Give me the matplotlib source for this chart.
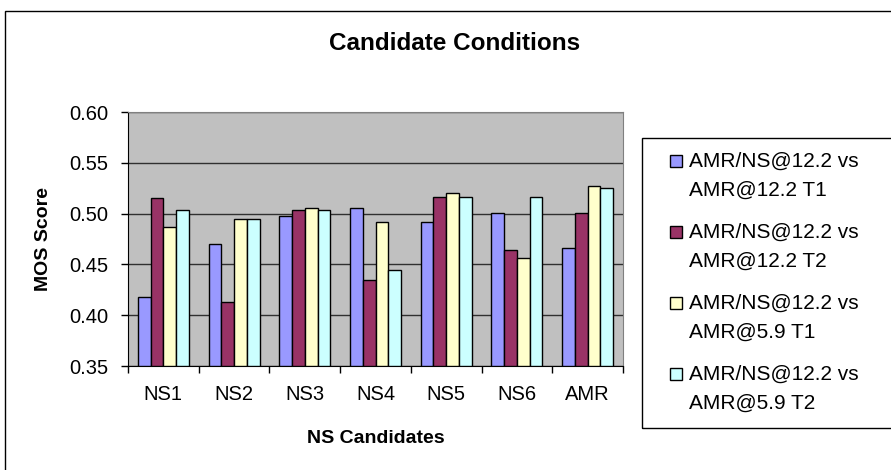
import matplotlib
matplotlib.use("Agg")
import matplotlib.pyplot as plt
import numpy as np
from matplotlib.patches import Rectangle

plt.rcParams['font.family'] = ['Liberation Sans', 'DejaVu Sans']

# data
candidates = ['NS1', 'NS2', 'NS3', 'NS4', 'NS5', 'NS6', 'AMR']
t1_12 = [0.418, 0.470, 0.498, 0.506, 0.492, 0.501, 0.466]
t2_12 = [0.515, 0.413, 0.504, 0.435, 0.516, 0.464, 0.501]
t1_59 = [0.487, 0.495, 0.506, 0.492, 0.520, 0.456, 0.527]
t2_59 = [0.504, 0.495, 0.504, 0.444, 0.516, 0.516, 0.525]

series = [t1_12, t2_12, t1_59, t2_59]
labels = [['AMR/NS@12.2 vs', 'AMR@12.2 T1'], ['AMR/NS@12.2 vs', 'AMR@12.2 T2'],
          ['AMR/NS@12.2 vs', 'AMR@5.9 T1'], ['AMR/NS@12.2 vs', 'AMR@5.9 T2']]
colors = ['#9999FF', '#993366', '#FFFFCC', '#CCFFFF']

W, H = 891, 470
def fx(px):
    return px / W
def fy(py):
    return 1 - py / H

fig = plt.figure(figsize=(W/100, H/100), dpi=100)
ax = fig.add_axes([fx(128), fy(366), (623-128)/W, (366-112)/H])

# outer chart frame (right and bottom run past the picture)
fig.patches.append(Rectangle((fx(5), fy(480)), fx(900), (480-11)/H,
                             transform=fig.transFigure, fill=False,
                             edgecolor='black', linewidth=1.0))

x = np.arange(len(candidates))
width = 0.18
for i in range(len(series)):
    ax.bar(x + (i-1.5)*width, np.array(series[i]) - 0.35, width, bottom=0.35,
           color=colors[i], edgecolor='black', linewidth=1.0, zorder=3)

ax.set_facecolor('#C0C0C0')
ax.set_ylim(0.35, 0.60)
ax.set_xlim(-0.5, len(candidates)-0.5)
yt = np.arange(0.35, 0.6001, 0.05)
ax.set_yticks(yt)
ax.set_yticklabels(['%.2f' % v for v in yt], fontsize=14.5)
ax.set_xticks(x)
ax.set_xticklabels(candidates, fontsize=14.5)
ax.set_xticks(np.arange(-0.5, len(candidates), 1), minor=True)
ax.tick_params(axis='x', which='major', length=0, pad=14)
ax.tick_params(axis='x', which='minor', length=5, width=1, direction='out', color='black')
ax.tick_params(axis='y', length=5, width=1, direction='out', pad=9)
ax.grid(True, axis='y', color='#303030', linewidth=1.0, zorder=1)
ax.set_axisbelow(True)
for s in ['top', 'right']:
    ax.spines[s].set_color('#808080')
for s in ['left', 'bottom']:
    ax.spines[s].set_color('black')

fig.text(fx(43.5), fy(239), 'MOS Score', rotation=90, fontsize=14,
         fontweight='bold', ha='center', va='center')
fig.text(fx(375.5), fy(443), 'NS Candidates', fontsize=14,
         fontweight='bold', ha='center', va='baseline')
fig.text(fx(455), fy(50), 'Candidate Conditions', fontsize=17.5,
         fontweight='bold', ha='center', va='baseline')

# legend box
fig.patches.append(Rectangle((fx(641.7), fy(428)), fx(300), (428-138)/H,
                             transform=fig.transFigure, fill=False,
                             edgecolor='black', linewidth=1.0))
base = 167
step = 71
for i in range(len(series)):
    b = base + i*step
    fig.patches.append(Rectangle((fx(669.5), fy(b)), fx(12), 12/H,
                                 transform=fig.transFigure, facecolor=colors[i],
                                 edgecolor='black', linewidth=1.0))
    fig.text(fx(689), fy(b), labels[i][0], fontsize=15, ha='left', va='baseline')
    fig.text(fx(689), fy(b+29), labels[i][1], fontsize=15, ha='left', va='baseline')

fig.savefig('out.png', dpi=100)
